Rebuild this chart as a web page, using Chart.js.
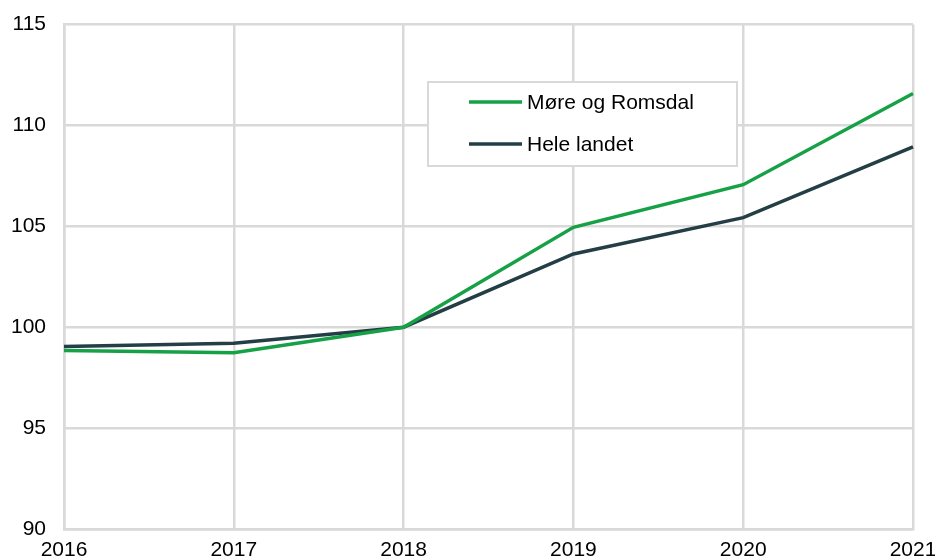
<!DOCTYPE html>
<html>
<head>
<meta charset="utf-8">
<script src="https://cdn.jsdelivr.net/npm/chart.js@4/dist/chart.umd.min.js"></script>
<style>
    html, body { margin: 0; padding: 0; background: #FFFFFF; }
    #wrap { width: 935px; height: 556px; }
</style>
</head>
<body>
<div id="wrap"><canvas id="indexChart" width="935" height="556"></canvas></div>
<script>
const years = ["2016", "2017", "2018", "2019", "2020", "2021"];
const moreRomsdal = [98.84, 98.74, 100, 104.95, 107.06, 111.58];
const heleLandet = [99.04, 99.2, 100, 103.63, 105.43, 108.94];
const yTicks = [90, 95, 100, 105, 110, 115];

const GREEN = "#17A147";
const DARK = "#243E45";
const GRID = "#D9D9D9";
const FONT = "'Liberation Sans', Arial, sans-serif";

// legend box drawn on the canvas, labels and colours come from the datasets
const boxLegend = {
    id: "boxLegend",
    afterDraw(chart) {
        const ctx = chart.ctx;
        ctx.save();
        ctx.strokeStyle = GRID;
        ctx.lineWidth = 2;
        ctx.fillStyle = "#FFFFFF";
        ctx.fillRect(428, 82, 309, 84);
        ctx.strokeRect(428, 82, 309, 84);
        chart.data.datasets.forEach((ds, i) => {
            const y = 102 + i * 42;
            ctx.strokeStyle = ds.borderColor;
            ctx.lineWidth = 3.5;
            ctx.beginPath();
            ctx.moveTo(469, y);
            ctx.lineTo(522, y);
            ctx.stroke();
            ctx.fillStyle = "#000000";
            ctx.font = "21px " + FONT;
            ctx.textBaseline = "middle";
            ctx.fillText(ds.label, 527, y + 1);
        });
        ctx.restore();
    }
};

new Chart(document.getElementById("indexChart"), {
    type: "line",
    data: {
        labels: years,
        datasets: [
            {
                label: "Møre og Romsdal",
                data: moreRomsdal,
                borderColor: GREEN,
                borderWidth: 3.5,
                pointRadius: 0,
                tension: 0
            },
            {
                label: "Hele landet",
                data: heleLandet,
                borderColor: DARK,
                borderWidth: 3.5,
                pointRadius: 0,
                tension: 0
            }
        ]
    },
    options: {
        responsive: false,
        animation: false,
        layout: { padding: { top: 24.5, right: 22, left: 0, bottom: 0 } },
        plugins: {
            legend: { display: false },
            tooltip: { enabled: false }
        },
        scales: {
            x: {
                offset: false,
                grid: { color: GRID, lineWidth: 2.5, drawTicks: false },
                border: { color: GRID, width: 2.5 },
                ticks: {
                    color: "#000000",
                    padding: 9,
                    maxRotation: 0,
                    autoSkip: false,
                    font: { family: FONT, size: 21 }
                },
                afterFit(scale) {
                    scale.height = 27;
                    scale.paddingLeft = 0;
                    scale.paddingRight = 0;
                }
            },
            y: {
                min: 90,
                max: 115,
                afterBuildTicks(scale) {
                    scale.ticks = yTicks.map(v => ({ value: v }));
                },
                grid: { color: GRID, lineWidth: 2.5, drawTicks: false },
                border: { color: GRID, width: 2.5 },
                ticks: {
                    color: "#000000",
                    padding: 18,
                    font: { family: FONT, size: 21 }
                },
                afterFit(scale) {
                    scale.width = 64;
                    scale.paddingTop = 0;
                    scale.paddingBottom = 0;
                }
            }
        }
    },
    plugins: [boxLegend]
});
</script>
</body>
</html>
